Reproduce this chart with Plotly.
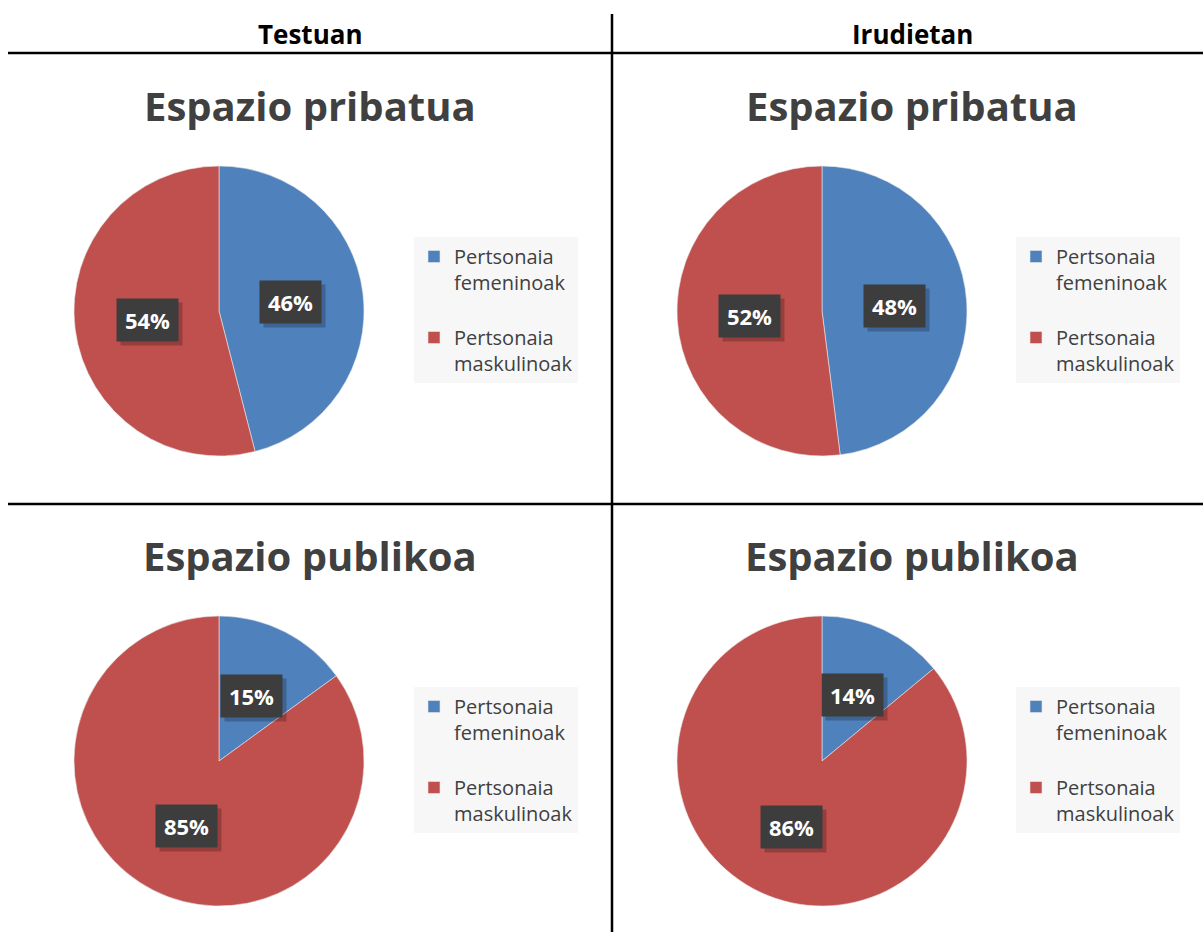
import math
import plotly.graph_objects as go

W, H = 1203, 932

categories = ["Pertsonaia<br>femeninoak", "Pertsonaia<br>maskulinoak"]
colors = ["#4F81BD", "#C0504D"]

columns = ["Testuan", "Irudietan"]
rows = ["Espazio pribatua", "Espazio publikoa"]

testuan_pribatua = [46, 54]
irudietan_pribatua = [48, 52]
testuan_publikoa = [15, 85]
irudietan_publikoa = [14, 86]

# pixel layout of each cell: pie centre, title centre, legend top-left
cells = [
    dict(values=testuan_pribatua, title=rows[0], cx=219, cy=311, tx=310, ty=105, lx=414, ly=237),
    dict(values=irudietan_pribatua, title=rows[0], cx=822, cy=311, tx=912, ty=105, lx=1016, ly=237),
    dict(values=testuan_publikoa, title=rows[1], cx=219, cy=761, tx=310, ty=555, lx=414, ly=687),
    dict(values=irudietan_publikoa, title=rows[1], cx=822, cy=761, tx=912, ty=555, lx=1016, ly=687),
]
R = 145

FONT = "Open Sans"

fig = go.Figure()
annotations = []
legends = {}

for i, c in enumerate(cells):
    leg = "legend" if i == 0 else "legend%d" % (i + 1)
    # zero-width spaces keep each pie's legend entries separate;
    # a blank line after the first entry gives the gap between items
    labels = [categories[0] + "<br> " + "\u200b" * i,
              categories[1] + "\u200b" * i]
    fig.add_trace(go.Pie(
        labels=labels,
        values=c["values"],
        sort=False,
        direction="clockwise",
        rotation=0,
        textinfo="none",
        hovertemplate="%{percent}<extra></extra>",
        marker=dict(colors=colors, line=dict(color="#E8E8E8", width=0.6)),
        domain=dict(x=[(c["cx"] - R) / W, (c["cx"] + R) / W],
                    y=[1 - (c["cy"] + R) / H, 1 - (c["cy"] - R) / H]),
        legend=leg,
        showlegend=True,
    ))
    legends[leg] = dict(
        x=c["lx"] / W, y=1 - c["ly"] / H, xanchor="left", yanchor="top",
        bgcolor="#F7F7F7", font=dict(family=FONT, size=20, color="#404040"),
        valign="top", itemwidth=30,
    )
    annotations.append(dict(
        x=c["tx"] / W, y=1 - c["ty"] / H, xref="paper", yref="paper",
        xanchor="center", yanchor="middle",
        text="<b>%s</b>" % c["title"], showarrow=False,
        font=dict(family=FONT, size=40, color="#404040"),
    ))
    # data labels at half radius along each slice's mid angle
    total = sum(c["values"])
    start = 0.0
    for v in c["values"]:
        mid = (start + v / 2) / total * 2 * math.pi
        start += v
        px = c["cx"] + 0.5 * R * math.sin(mid)
        py = c["cy"] - 0.5 * R * math.cos(mid)
        # soft shadow behind the label box
        annotations.append(dict(
            x=(px + 4) / W, y=1 - (py + 4) / H, xref="paper", yref="paper",
            xanchor="center", yanchor="middle",
            text=" ", showarrow=False, width=61, height=42, borderpad=0,
            bgcolor="rgba(0,0,0,0.22)",
        ))
        annotations.append(dict(
            x=px / W, y=1 - py / H, xref="paper", yref="paper",
            xanchor="center", yanchor="middle",
            text="<b>%d%%</b>" % round(v / total * 100), showarrow=False,
            font=dict(family=FONT, size=22, color="white"),
            width=47, height=28, bgcolor="#3D3D3D", borderpad=7,
        ))

for j, col in enumerate(columns):
    annotations.append(dict(
        x=(310 if j == 0 else 912) / W, y=1 - 34 / H, xref="paper", yref="paper",
        xanchor="center", yanchor="middle",
        text="<b>%s</b>" % col, showarrow=False,
        font=dict(family=FONT, size=26, color="black"),
    ))

line = dict(color="black", width=2.5)
shapes = [
    dict(type="line", xref="paper", yref="paper", x0=612 / W, x1=612 / W, y0=0, y1=1 - 14 / H, line=line),
    dict(type="line", xref="paper", yref="paper", x0=8 / W, x1=1, y0=1 - 53 / H, y1=1 - 53 / H, line=line),
    dict(type="line", xref="paper", yref="paper", x0=8 / W, x1=1, y0=1 - 504 / H, y1=1 - 504 / H, line=line),
]

fig.update_layout(
    width=W, height=H,
    margin=dict(l=0, r=0, t=0, b=0),
    paper_bgcolor="white",
    annotations=annotations,
    shapes=shapes,
    **legends,
)

fig.write_html("out.html", config={"displayModeBar": False},
               post_script="document.body.style.margin='0';")
